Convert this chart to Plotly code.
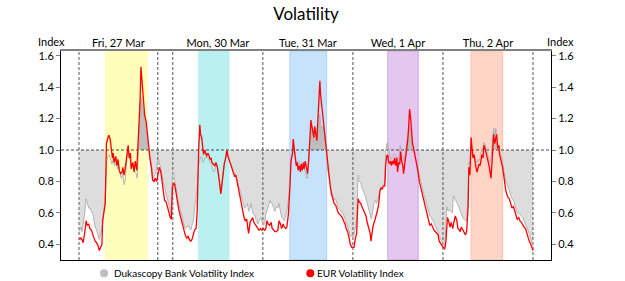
import numpy as np
import plotly.graph_objects as go

# ---------------- data (hours from Fri 27 Mar 00:00, weekend compressed) ----------------
day_bounds = [0, 21, 25, 49, 73, 97, 121]
day_centers = [10.5, 37, 61, 85, 109]
day_labels = ["Fri, 27 Mar", "Mon, 30 Mar", "Tue, 31 Mar", "Wed, 1 Apr", "Thu, 2 Apr"]

band_start = [7.0, 31.8, 56.2, 82.3, 104.5]
band_end = [18.2, 40.0, 66.0, 90.4, 112.9]
band_fill = ["#FFFFBB", "#BBF0F0", "#C6E3FB", "#E5C6EE", "#FFD5C5"]
band_edge = ["#FFFFBB", "#BBF0F0", "#A8D0F5", "#CFA6DD", "#F7C2AE"]

eur_t = [0.1, 0.5, 0.8, 1.1, 1.5, 1.9, 2.2, 2.6, 2.9, 3.3, 3.7, 4.0, 4.3, 4.7, 5.1, 5.4, 5.8, 6.1, 6.3, 6.7,
         7.0, 7.3, 7.5, 7.9, 8.3, 8.6, 8.9, 9.1, 9.4, 9.8, 10.1, 10.4, 10.7, 11.1, 11.5, 11.7, 12.0, 12.3, 12.7, 13.1,
         13.4, 13.7, 13.9, 14.3, 14.7, 15.0, 15.4, 15.6, 15.9, 16.3, 16.5, 16.8, 17.1, 17.5, 17.9, 18.2, 18.6, 18.9, 19.3, 19.6,
         20.0, 20.3, 20.7, 21.1, 21.4, 21.8, 22.1, 22.5, 22.8, 23.2, 23.5, 23.9, 24.3, 24.6, 24.9, 25.2, 25.5, 25.9, 26.2, 26.6,
         26.9, 27.3, 27.6, 28.0, 28.3, 28.7, 29.1, 29.4, 29.8, 30.1, 30.5, 30.8, 31.2, 31.5, 31.9, 32.2, 32.4, 32.7, 33.0, 33.2,
         33.5, 33.8, 34.0, 34.3, 34.6, 34.9, 35.2, 35.4, 35.8, 36.2, 36.5, 36.9, 37.2, 37.6, 37.8, 38.1, 38.4, 38.7, 39.1, 39.4,
         39.7, 40.1, 40.4, 40.8, 41.1, 41.5, 41.8, 42.2, 42.6, 42.9, 43.3, 43.6, 44.0, 44.3, 44.7, 45.0, 45.2, 45.6, 45.9, 46.3,
         46.6, 46.9, 47.3, 47.7, 48.0, 48.4, 48.8, 49.1, 49.5, 49.8, 50.1, 50.4, 50.8, 51.2, 51.5, 51.9, 52.2, 52.6, 53.0, 53.3,
         53.7, 54.0, 54.4, 54.7, 55.1, 55.4, 55.8, 56.2, 56.5, 56.9, 57.1, 57.4, 57.7, 57.9, 58.2, 58.4, 58.7, 59.0, 59.2, 59.5,
         59.8, 60.0, 60.3, 60.6, 60.9, 61.2, 61.5, 61.8, 62.0, 62.3, 62.6, 62.8, 63.1, 63.4, 63.6, 63.9, 64.2, 64.4, 64.7, 64.9,
         65.2, 65.5, 65.7, 66.0, 66.3, 66.6, 67.0, 67.3, 67.7, 68.0, 68.4, 68.8, 69.1, 69.5, 69.8, 70.2, 70.5, 70.9, 71.2, 71.6,
         72.0, 72.3, 72.7, 73.0, 73.3, 73.6, 74.0, 74.2, 74.4, 74.7, 75.1, 75.4, 75.8, 76.1, 76.5, 76.8, 77.2, 77.6, 77.8, 78.1,
         78.4, 78.8, 79.2, 79.5, 79.9, 80.2, 80.5, 80.8, 81.1, 81.5, 81.7, 82.0, 82.3, 82.5, 82.8, 83.1, 83.3, 83.6, 83.9, 84.1,
         84.4, 84.7, 84.9, 85.2, 85.5, 85.7, 86.0, 86.3, 86.5, 86.8, 87.1, 87.3, 87.6, 87.9, 88.1, 88.4, 88.7, 88.9, 89.2, 89.5,
         89.7, 90.0, 90.3, 90.7, 91.1, 91.4, 91.8, 92.1, 92.5, 92.8, 93.2, 93.5, 93.9, 94.3, 94.6, 95.0, 95.3, 95.7, 96.0, 96.4,
         96.8, 97.1, 97.5, 97.8, 98.2, 98.5, 98.9, 99.2, 99.6, 99.9, 100.3, 100.7, 101.0, 101.4, 101.6, 101.9, 102.3, 102.6, 103.0, 103.3,
         103.7, 103.9, 104.2, 104.5, 104.7, 105.0, 105.3, 105.5, 105.8, 106.1, 106.3, 106.6, 106.9, 107.1, 107.4, 107.7, 107.9, 108.2, 108.5, 108.7,
         109.0, 109.3, 109.5, 109.8, 110.1, 110.3, 110.5, 110.8, 111.1, 111.3, 111.6, 111.9, 112.1, 112.4, 112.7, 112.9, 113.2, 113.5, 113.7, 114.0,
         114.3, 114.7, 115.1, 115.4, 115.8, 116.1, 116.5, 116.8, 117.2, 117.5, 117.9, 118.3, 118.6, 119.0, 119.3, 119.7, 120.0, 120.4, 120.7, 121.0]
eur_v = [0.43, 0.44, 0.43, 0.41, 0.47, 0.55, 0.52, 0.53, 0.50, 0.49, 0.46, 0.43, 0.42, 0.41, 0.39, 0.36, 0.38, 0.40, 0.55, 0.61,
         0.66, 1.04, 1.06, 1.095, 1.07, 1.01, 0.95, 0.98, 0.92, 0.96, 0.90, 0.94, 0.87, 0.85, 0.86, 0.89, 0.84, 0.88, 0.94, 1.03,
         0.95, 0.98, 0.88, 0.92, 0.86, 0.93, 0.87, 0.97, 1.19, 1.33, 1.53, 1.44, 1.29, 1.22, 1.18, 1.10, 1.00, 0.95, 0.89, 0.81,
         0.80, 0.82, 0.80, 0.87, 0.89, 0.86, 0.80, 0.71, 0.68, 0.67, 0.65, 0.61, 0.57, 0.56, 0.76, 0.79, 0.78, 0.72, 0.66, 0.62,
         0.59, 0.55, 0.52, 0.48, 0.46, 0.44, 0.45, 0.43, 0.42, 0.43, 0.46, 0.49, 0.50, 0.61, 1.01, 1.16, 1.10, 1.08, 1.01, 0.97,
         1.00, 0.98, 0.96, 0.98, 0.97, 0.94, 0.95, 0.92, 0.91, 0.90, 0.92, 0.89, 0.84, 0.77, 0.72, 0.78, 0.87, 0.91, 0.95, 1.00,
         0.96, 0.92, 0.91, 0.88, 0.86, 0.83, 0.84, 0.79, 0.76, 0.70, 0.66, 0.61, 0.57, 0.55, 0.56, 0.50, 0.47, 0.54, 0.55, 0.57,
         0.54, 0.53, 0.52, 0.50, 0.49, 0.50, 0.49, 0.50, 0.49, 0.50, 0.55, 0.53, 0.52, 0.54, 0.50, 0.49, 0.48, 0.48, 0.49, 0.55,
         0.53, 0.50, 0.53, 0.51, 0.50, 0.51, 0.59, 0.76, 0.93, 0.98, 1.07, 1.00, 0.94, 0.90, 0.92, 0.87, 0.90, 0.86, 0.91, 0.87,
         0.92, 0.88, 0.93, 0.89, 0.85, 0.93, 1.05, 1.19, 1.16, 1.13, 1.08, 1.15, 1.11, 1.06, 1.16, 1.31, 1.44, 1.35, 1.28, 1.22,
         1.14, 1.09, 1.04, 0.97, 0.89, 0.82, 0.76, 0.72, 0.68, 0.66, 0.65, 0.61, 0.60, 0.59, 0.58, 0.57, 0.55, 0.53, 0.50, 0.48,
         0.44, 0.40, 0.38, 0.38, 0.38, 0.43, 0.47, 0.60, 0.69, 0.67, 0.66, 0.64, 0.62, 0.61, 0.58, 0.54, 0.50, 0.47, 0.42, 0.48,
         0.52, 0.55, 0.58, 0.61, 0.66, 0.74, 0.76, 0.75, 0.77, 0.77, 0.89, 0.96, 0.97, 0.93, 0.91, 0.93, 0.90, 0.93, 0.91, 0.95,
         0.90, 0.95, 0.86, 0.92, 0.91, 0.99, 0.93, 0.90, 0.85, 0.91, 0.97, 0.98, 1.06, 1.16, 1.26, 1.20, 1.11, 1.04, 1.01, 0.97,
         0.96, 0.93, 0.87, 0.80, 0.76, 0.72, 0.69, 0.66, 0.61, 0.58, 0.54, 0.52, 0.53, 0.50, 0.49, 0.48, 0.47, 0.46, 0.42, 0.40,
         0.39, 0.38, 0.37, 0.42, 0.57, 0.55, 0.51, 0.54, 0.50, 0.54, 0.58, 0.55, 0.50, 0.49, 0.48, 0.51, 0.49, 0.47, 0.46, 0.48,
         0.63, 0.89, 0.84, 1.08, 1.04, 0.95, 0.97, 0.93, 0.89, 0.86, 0.88, 0.91, 0.90, 0.93, 0.97, 0.95, 1.03, 1.01, 0.97, 0.95,
         0.93, 0.90, 0.85, 0.82, 0.93, 1.05, 1.10, 1.04, 1.07, 1.10, 1.01, 1.03, 0.97, 0.94, 0.92, 0.89, 0.84, 0.78, 0.75, 0.72,
         0.70, 0.69, 0.66, 0.63, 0.64, 0.61, 0.59, 0.56, 0.57, 0.55, 0.54, 0.52, 0.51, 0.50, 0.47, 0.44, 0.42, 0.40, 0.38, 0.36]

duka_t = [0.1, 0.5, 0.8, 1.1, 1.5, 1.9, 2.2, 2.6, 2.9, 3.3, 3.7, 4.0, 4.3, 4.7, 5.1, 5.4, 5.8, 6.1, 6.5, 6.8,
          7.1, 7.4, 7.7, 8.1, 8.4, 8.8, 9.1, 9.5, 9.9, 10.2, 10.6, 10.9, 11.3, 11.6, 12.0, 12.3, 12.7, 13.1, 13.4, 13.8,
          14.1, 14.5, 14.8, 15.2, 15.5, 15.8, 16.1, 16.3, 16.6, 17.0, 17.3, 17.7, 18.0, 18.4, 18.7, 19.1, 19.5, 19.8, 20.2, 20.5,
          20.9, 21.2, 21.6, 21.9, 22.3, 22.8, 23.2, 23.5, 23.9, 24.3, 24.6, 24.9, 25.2, 25.5, 25.9, 26.2, 26.6, 26.9, 27.3, 27.6,
          28.0, 28.3, 28.7, 29.1, 29.4, 29.8, 30.1, 30.5, 30.8, 31.2, 31.5, 31.9, 32.2, 32.4, 32.8, 33.1, 33.5, 33.9, 34.2, 34.6,
          34.9, 35.3, 35.6, 36.0, 36.3, 36.7, 37.0, 37.4, 37.8, 38.1, 38.5, 38.8, 39.2, 39.6, 39.9, 40.2, 40.6, 41.0, 41.3, 41.7,
          42.0, 42.4, 42.7, 43.1, 43.4, 43.8, 44.2, 44.5, 44.9, 45.2, 45.6, 45.9, 46.3, 46.6, 46.9, 47.3, 47.7, 48.0, 48.4, 48.8,
          49.1, 49.5, 49.8, 50.2, 50.6, 50.9, 51.2, 51.5, 51.9, 52.2, 52.6, 53.0, 53.3, 53.7, 54.0, 54.4, 54.7, 55.1, 55.4, 55.8,
          56.2, 56.5, 56.9, 57.1, 57.4, 57.7, 57.9, 58.3, 58.6, 59.0, 59.4, 59.7, 60.0, 60.4, 60.7, 60.9, 61.2, 61.5, 61.8, 62.0,
          62.3, 62.6, 62.8, 63.1, 63.4, 63.6, 63.9, 64.2, 64.4, 64.7, 64.9, 65.2, 65.5, 65.7, 66.0, 66.3, 66.6, 67.0, 67.3, 67.7,
          68.0, 68.4, 68.8, 69.1, 69.5, 69.8, 70.2, 70.5, 70.9, 71.2, 71.6, 72.0, 72.3, 72.6, 73.0, 73.3, 73.6, 74.0, 74.2, 74.4,
          74.7, 75.1, 75.4, 75.8, 76.1, 76.5, 76.8, 77.2, 77.6, 77.9, 78.3, 78.6, 79.0, 79.3, 79.7, 80.0, 80.4, 80.8, 81.1, 81.5,
          81.7, 82.0, 82.3, 82.5, 82.8, 83.1, 83.4, 83.8, 84.1, 84.5, 84.9, 85.2, 85.6, 85.9, 86.3, 86.6, 87.0, 87.3, 87.6, 87.9,
          88.1, 88.4, 88.7, 88.9, 89.3, 89.6, 90.0, 90.3, 90.7, 91.1, 91.4, 91.8, 92.1, 92.5, 92.8, 93.2, 93.5, 93.9, 94.3, 94.6,
          95.0, 95.3, 95.7, 96.0, 96.4, 96.8, 97.1, 97.5, 98.0, 98.4, 98.7, 99.1, 99.5, 99.8, 100.2, 100.5, 100.9, 101.2, 101.6, 101.9,
          102.3, 102.6, 103.0, 103.3, 103.7, 103.9, 104.2, 104.5, 104.7, 105.0, 105.3, 105.5, 105.8, 106.1, 106.3, 106.6, 106.9, 107.1, 107.4, 107.7,
          107.9, 108.2, 108.5, 108.7, 109.0, 109.3, 109.5, 109.8, 110.1, 110.3, 110.5, 110.8, 111.1, 111.3, 111.6, 111.9, 112.1, 112.4, 112.7, 112.9,
          113.2, 113.5, 113.7, 114.0, 114.3, 114.7, 115.1, 115.4, 115.8, 116.1, 116.5, 116.8, 117.2, 117.5, 117.9, 118.3, 118.6, 119.0, 119.3, 119.7,
          120.0, 120.4, 120.7, 121.0]
duka_v = [0.48, 0.51, 0.48, 0.52, 0.59, 0.69, 0.66, 0.63, 0.63, 0.61, 0.59, 0.55, 0.51, 0.49, 0.46, 0.43, 0.47, 0.50, 0.57, 0.66,
          0.76, 0.93, 0.96, 0.97, 0.95, 0.91, 0.95, 0.90, 0.92, 0.88, 0.91, 0.85, 0.82, 0.85, 0.78, 0.80, 0.93, 1.01, 0.95, 0.93,
          0.89, 0.92, 0.86, 0.85, 0.82, 1.01, 1.20, 1.27, 1.33, 1.27, 1.20, 1.17, 1.11, 1.04, 0.97, 0.92, 0.85, 0.82, 0.84, 0.85,
          0.92, 0.94, 0.90, 0.86, 0.81, 0.76, 0.72, 0.69, 0.66, 0.61, 0.59, 0.85, 0.86, 0.80, 0.76, 0.70, 0.66, 0.61, 0.58, 0.55,
          0.52, 0.50, 0.51, 0.52, 0.50, 0.49, 0.52, 0.55, 0.63, 0.72, 0.76, 0.91, 0.93, 0.96, 0.95, 0.92, 0.95, 0.95, 0.96, 0.94,
          0.92, 0.91, 0.87, 0.86, 0.89, 0.91, 0.86, 0.80, 0.75, 0.80, 0.89, 0.92, 0.97, 0.99, 0.94, 0.92, 0.91, 0.88, 0.85, 0.85,
          0.82, 0.80, 0.77, 0.72, 0.69, 0.66, 0.63, 0.64, 0.66, 0.61, 0.63, 0.66, 0.60, 0.59, 0.58, 0.55, 0.53, 0.55, 0.57, 0.54,
          0.52, 0.53, 0.59, 0.62, 0.66, 0.68, 0.66, 0.66, 0.63, 0.61, 0.64, 0.63, 0.66, 0.61, 0.57, 0.56, 0.55, 0.58, 0.61, 0.68,
          0.78, 0.93, 0.98, 1.04, 0.99, 0.95, 0.93, 0.92, 0.93, 0.90, 0.92, 0.91, 0.89, 0.85, 0.82, 0.82, 0.93, 1.04, 1.14, 1.16,
          1.10, 1.05, 1.12, 1.14, 1.04, 1.10, 1.19, 1.23, 1.16, 1.14, 1.15, 1.14, 1.10, 1.01, 0.95, 0.87, 0.84, 0.78, 0.74, 0.70,
          0.68, 0.69, 0.66, 0.63, 0.62, 0.61, 0.61, 0.59, 0.57, 0.54, 0.51, 0.48, 0.45, 0.46, 0.44, 0.46, 0.51, 0.55, 0.70, 0.84,
          0.80, 0.79, 0.76, 0.74, 0.72, 0.69, 0.66, 0.64, 0.59, 0.56, 0.61, 0.66, 0.68, 0.66, 0.69, 0.72, 0.76, 0.75, 0.78, 0.79,
          0.97, 1.04, 1.05, 1.01, 0.97, 0.94, 0.95, 0.97, 0.98, 0.96, 0.91, 0.95, 1.03, 0.99, 0.95, 0.93, 0.99, 1.04, 1.08, 1.12,
          1.14, 1.12, 1.07, 1.01, 0.98, 0.95, 0.92, 0.88, 0.83, 0.79, 0.76, 0.73, 0.70, 0.67, 0.64, 0.60, 0.58, 0.57, 0.55, 0.53,
          0.51, 0.50, 0.48, 0.45, 0.43, 0.42, 0.40, 0.39, 0.64, 0.61, 0.62, 0.61, 0.60, 0.71, 0.69, 0.68, 0.66, 0.64, 0.61, 0.59,
          0.57, 0.56, 0.55, 0.55, 0.72, 0.92, 0.91, 1.00, 0.98, 0.96, 0.97, 0.95, 0.93, 0.92, 0.94, 0.93, 0.95, 0.98, 1.01, 1.00,
          1.05, 1.04, 1.01, 0.99, 0.97, 0.95, 0.92, 0.95, 1.03, 1.12, 1.14, 1.10, 1.14, 1.08, 1.04, 1.01, 0.99, 0.97, 0.95, 0.92,
          0.87, 0.84, 0.80, 0.79, 0.76, 0.74, 0.71, 0.69, 0.68, 0.66, 0.62, 0.60, 0.60, 0.59, 0.58, 0.57, 0.55, 0.53, 0.51, 0.49,
          0.47, 0.43, 0.41, 0.39]

base_level = 1.0
y_range = [0.30, 1.63]
x_range = [-4.8, 125.8]
y_ticks = [0.4, 0.6, 0.8, 1.0, 1.2, 1.4, 1.6]

# ---------------- helpers ----------------
def with_crossings(t, v, base):
    T, V = [t[0]], [v[0]]
    for i in range(1, len(t)):
        a, b = v[i - 1], v[i]
        if (a - base) * (b - base) < 0:
            f = (base - a) / (b - a)
            T.append(t[i - 1] + f * (t[i] - t[i - 1]))
            V.append(base)
        T.append(t[i])
        V.append(b)
    return np.array(T), np.array(V)

T, V = with_crossings(duka_t, duka_v, base_level)
lo = np.minimum(V, base_level)
hi = np.maximum(V, base_level)
poly_x = np.concatenate([T, T[::-1]])
base_arr = np.full(len(T), base_level)

FONT = "Lato"
fig = go.Figure()

# light fill (below index 1.0)
fig.add_trace(go.Scatter(x=poly_x, y=np.concatenate([lo, base_arr[::-1]]), fill="toself",
                         fillcolor="#DDDDDD", line=dict(width=0), mode="lines",
                         hoverinfo="skip", showlegend=False))
# session bands
for s, e, fc, ec in zip(band_start, band_end, band_fill, band_edge):
    fig.add_trace(go.Scatter(x=[s, e, e, s, s], y=[y_range[0], y_range[0], y_range[1], y_range[1], y_range[0]],
                             fill="toself", fillcolor=fc, line=dict(width=1, color=ec), mode="lines",
                             hoverinfo="skip", showlegend=False))
# dark fill (above index 1.0)
fig.add_trace(go.Scatter(x=poly_x, y=np.concatenate([hi, base_arr[::-1]]), fill="toself",
                         fillcolor="#BEBEBE", line=dict(width=0), mode="lines",
                         hoverinfo="skip", showlegend=False))
# dashed reference lines
vx, vy = [], []
for b in day_bounds:
    vx += [b, b, None]
    vy += [y_range[0], y_range[1], None]
fig.add_trace(go.Scatter(x=vx, y=vy, mode="lines", line=dict(color="#555555", width=1, dash="3px,2px"),
                         hoverinfo="skip", showlegend=False))
fig.add_trace(go.Scatter(x=x_range, y=[base_level, base_level], mode="lines",
                         line=dict(color="#444444", width=1, dash="3px,2px"),
                         hoverinfo="skip", showlegend=False))
# series lines
fig.add_trace(go.Scatter(x=duka_t, y=duka_v, mode="lines", line=dict(color="#B4B4B4", width=1),
                         name="Dukascopy Bank Volatility Index", showlegend=False))
fig.add_trace(go.Scatter(x=eur_t, y=eur_v, mode="lines", line=dict(color="#FF0000", width=1.3),
                         name="EUR Volatility Index", showlegend=False))
# anchors for secondary axes
fig.add_trace(go.Scatter(x=[None], y=[None], xaxis="x2", yaxis="y2", showlegend=False, hoverinfo="skip"))

axis_font = dict(family=FONT, size=11, color="#000000")
legend_font = dict(family=FONT, size=10, color="#000000")
yaxis_common = dict(range=y_range, tickvals=y_ticks, ticktext=[f"{t:.1f}" for t in y_ticks],
                    ticks="outside", ticklen=4, tickcolor="#808080", showline=True, linecolor="#000000",
                    linewidth=1, showgrid=False, zeroline=False, tickfont=axis_font, fixedrange=True)

fig.update_layout(
    width=625, height=281,
    margin=dict(l=61, r=74, t=51, b=21),
    paper_bgcolor="white", plot_bgcolor="white",
    font=dict(family=FONT, size=11, color="#000000"),
    showlegend=False,
    title=dict(text="Volatility", x=0.4896, xanchor="center", y=0.95, yanchor="middle",
               yref="container", font=dict(family=FONT, size=17, color="#000000")),
    xaxis=dict(range=x_range, showticklabels=False, ticks="", showgrid=False, zeroline=False,
               showline=True, linecolor="#000000", linewidth=1, fixedrange=True),
    xaxis2=dict(range=x_range, overlaying="x", side="top", tickvals=day_centers, ticktext=day_labels,
                ticks="", showgrid=False, zeroline=False, showline=True, linecolor="#808080", linewidth=2,
                tickfont=axis_font, ticklabelstandoff=-2, fixedrange=True),
    yaxis=yaxis_common,
    yaxis2=dict(overlaying="y", side="right", **yaxis_common),
)

# axis captions
fig.add_annotation(text="Index", xref="paper", yref="paper", x=-0.0204, y=1.045, xanchor="center",
                   yanchor="middle", showarrow=False, font=axis_font, borderpad=0)
fig.add_annotation(text="Index", xref="paper", yref="paper", x=1.0184, y=1.045, xanchor="center",
                   yanchor="middle", showarrow=False, font=axis_font, borderpad=0)

# legend (custom, bottom)
legend_items = [("Dukascopy Bank Volatility Index", "#BFBFBF", 0.0878, 0.1041),
                ("EUR Volatility Index", "#FF0000", 0.5088, 0.5184)]
for name, col, cx, tx in legend_items:
    fig.add_shape(type="circle", xref="paper", yref="paper", xsizemode="pixel", ysizemode="pixel",
                  xanchor=cx, yanchor=-0.0636, x0=-4, x1=4, y0=-4, y1=4,
                  fillcolor=col, line=dict(width=0))
    fig.add_annotation(text=name, xref="paper", yref="paper", x=tx, y=-0.0636, xanchor="left",
                       yanchor="middle", showarrow=False, font=legend_font)

fig.write_html("out.html")
